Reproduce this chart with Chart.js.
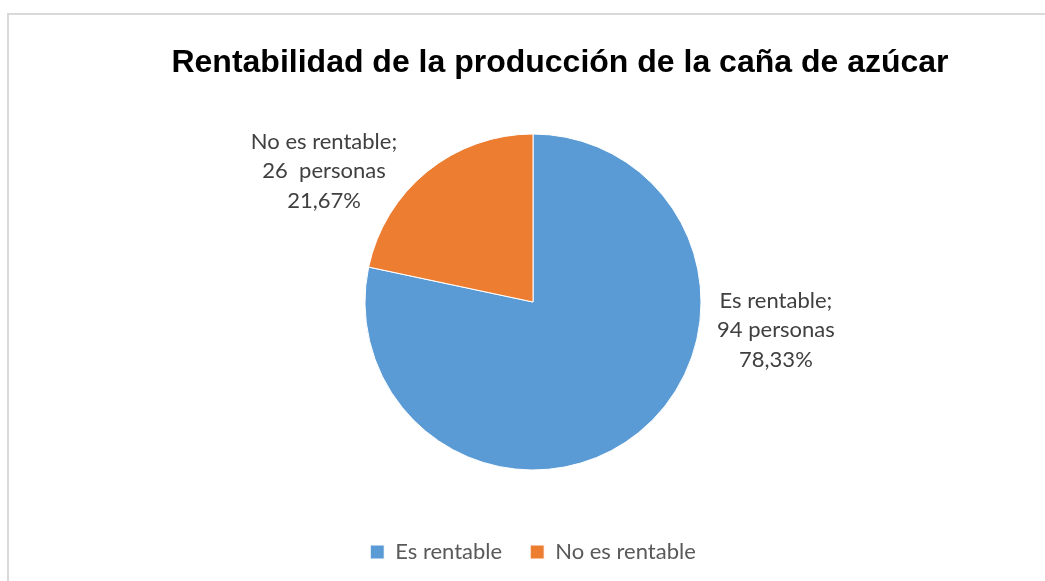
<!DOCTYPE html>
<html>
<head>
<meta charset="utf-8">
<script src="https://cdn.jsdelivr.net/npm/chart.js@4.4.1/dist/chart.umd.min.js"></script>
<style>
    html, body { margin: 0; padding: 0; background: #fff; }
    #wrap { position: relative; width: 1045px; height: 581px; overflow: hidden; }
    #frame {
        position: absolute; left: 7px; top: 13px; right: -10px; bottom: -10px;
        border-left: 2px solid #d9d9d9; border-top: 2px solid #d9d9d9;
    }
    canvas { position: absolute; left: 0; top: 0; }
</style>
</head>
<body>
<div id="wrap">
    <div id="frame"></div>
    <canvas id="pieChart" width="1045" height="581"></canvas>
</div>
<script>
// Datos del gráfico
const chartTitle = 'Rentabilidad de la producción de la caña de azúcar';
const categories = ['Es rentable', 'No es rentable'];
const personCounts = [94, 26];
const personUnits = [' personas', '  personas'];
const sliceColors = ['#5b9bd5', '#ed7d31'];

// Posición de las etiquetas (en radios desde el centro)
const labelOffsets = [
    { x: 1.446, y: 0.167 },
    { x: -1.244, y: -0.78 }
];

const total = personCounts.reduce((a, b) => a + b, 0);

function pctText(v) {
    return (v / total * 100).toFixed(2).replace('.', ',') + '%';
}

// Título dibujado a mano (centrado como en Excel)
const titlePlugin = {
    id: 'excelTitle',
    afterDraw(chart) {
        const ctx = chart.ctx;
        ctx.save();
        ctx.font = 'bold 32px "Liberation Sans", Arial, sans-serif';
        ctx.fillStyle = '#000';
        ctx.textAlign = 'center';
        ctx.textBaseline = 'alphabetic';
        ctx.fillText(chartTitle, 560, 72);
        ctx.restore();
    }
};

// Etiquetas de datos: categoría; valor; porcentaje
const dataLabelPlugin = {
    id: 'dataLabels',
    afterDatasetsDraw(chart) {
        const ctx = chart.ctx;
        const meta = chart.getDatasetMeta(0);
        ctx.save();
        ctx.font = '22px Lato, "Open Sans", sans-serif';
        ctx.fillStyle = '#404040';
        ctx.textAlign = 'center';
        ctx.textBaseline = 'middle';
        meta.data.forEach((arc, i) => {
            const r = arc.outerRadius;
            const cx = arc.x + labelOffsets[i].x * r;
            const cy = arc.y + labelOffsets[i].y * r;
            const lines = [
                categories[i] + ';',
                personCounts[i] + personUnits[i],
                pctText(personCounts[i])
            ];
            lines.forEach((t, j) => {
                ctx.fillText(t, cx, cy + (j - 1) * 29.5);
            });
        });
        ctx.restore();
    }
};

const ctx = document.getElementById('pieChart').getContext('2d');
const pieChart = new Chart(ctx, {
    type: 'pie',
    data: {
        labels: categories,
        datasets: [{
            data: personCounts,
            backgroundColor: sliceColors,
            borderColor: '#fff',
            borderWidth: 1,
            radius: 168
        }]
    },
    options: {
        responsive: false,
        animation: false,
        layout: {
            padding: { top: 91, bottom: 8, left: 150, right: 129 }
        },
        plugins: {
            title: { display: false },
            tooltip: { enabled: false },
            legend: {
                position: 'bottom',
                labels: {
                    boxWidth: 14,
                    boxHeight: 14,
                    padding: 28,
                    color: '#595959',
                    font: { family: 'Lato, "Open Sans", sans-serif', size: 22 }
                }
            }
        }
    },
    plugins: [dataLabelPlugin, titlePlugin]
});
</script>
</body>
</html>
